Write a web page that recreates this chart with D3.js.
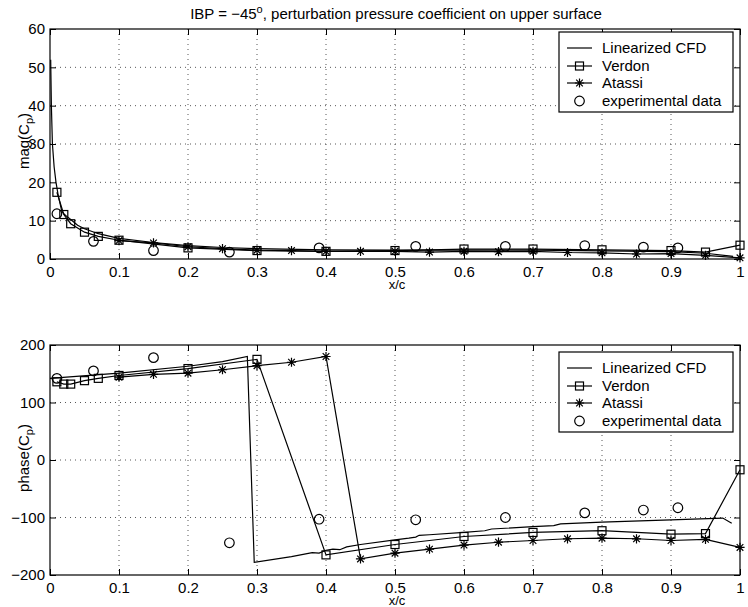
<!DOCTYPE html>
<html>
<head>
<meta charset="utf-8">
<script src="https://cdn.jsdelivr.net/npm/d3@7"></script>
<style>
  body { margin: 0; background: #fff; }
  svg text { font-family: "Liberation Sans", Arial, Helvetica, sans-serif; fill: #000; }
</style>
</head>
<body>
<svg id="chart" width="748" height="607"></svg>
<script>
// ---- tick values ----
const xTicks = [0, 0.1, 0.2, 0.3, 0.4, 0.5, 0.6, 0.7, 0.8, 0.9, 1];
const magTicks = [0, 10, 20, 30, 40, 50, 60];
const phaseTicks = [-200, -100, 0, 100, 200];

// ---- Linearized CFD ----
const cfdMagX = [0.001, 0.002, 0.0035, 0.006, 0.0087, 0.012, 0.017, 0.02, 0.025, 0.03, 0.04, 0.05, 0.07, 0.1, 0.15, 0.2, 0.25, 0.3, 0.4, 0.5, 0.6, 0.7, 0.8, 0.9, 0.95, 0.99];
const cfdMag  = [52, 40, 30, 24, 20, 16.5, 12.5, 11.8, 11, 10.3, 8.8, 7.9, 6.6, 5.4, 4.3, 3.5, 3.0, 2.7, 2.4, 2.3, 2.3, 2.3, 2.1, 1.9, 1.5, 0.7];
const cfdPhaseX = [0, 0.1, 0.2, 0.25, 0.286, 0.296, 0.35, 0.38, 0.39, 0.4, 0.41, 0.42, 0.43, 0.45, 0.5, 0.52, 0.53, 0.535, 0.55, 0.6, 0.63, 0.64, 0.7, 0.73, 0.74, 0.8, 0.9, 0.975, 0.988];
const cfdPhase  = [142, 151, 163, 171, 180, -178, -168, -161, -162, -157, -155, -156, -151, -147, -139, -136, -134, -131, -130, -126, -123, -120, -116, -114, -111, -108, -104, -101, -110];

// ---- Verdon ----
const verdonX     = [0.01, 0.02, 0.03, 0.05, 0.07, 0.1, 0.2, 0.3, 0.4, 0.5, 0.6, 0.7, 0.8, 0.9, 0.95, 1.0];
const verdonMag   = [17.4, 11.6, 9.2, 7.0, 5.9, 4.9, 2.9, 2.2, 2.0, 2.2, 2.6, 2.6, 2.4, 2.2, 1.8, 3.6];
const verdonPhase = [136, 132, 132, 138, 142, 147, 159, 175, -165, -147, -133, -126, -123, -129, -128, -17];

// ---- Atassi ----
const atassiX     = [0.1, 0.15, 0.2, 0.25, 0.3, 0.35, 0.4, 0.45, 0.5, 0.55, 0.6, 0.65, 0.7, 0.75, 0.8, 0.85, 0.9, 0.95, 1.0];
const atassiMag   = [4.8, 4.2, 3.2, 2.7, 2.3, 2.2, 2.0, 2.0, 2.0, 1.8, 2.0, 1.9, 2.0, 1.7, 1.6, 1.3, 1.4, 0.95, 0.3];
const atassiPhase = [144, 149, 151, 157, 164, 170, 180, -172, -162, -155, -148, -143, -140, -137, -136, -137, -140, -138, -152];

// ---- experimental data ----
const expX     = [0.01, 0.063, 0.15, 0.26, 0.39, 0.53, 0.66, 0.775, 0.86, 0.91];
const expMag   = [11.8, 4.6, 2.2, 1.8, 2.9, 3.3, 3.3, 3.5, 3.1, 2.9];
const expPhase = [142, 155, 178, -144, -103, -104, -100, -92, -87, -83];

const seriesNames = ["Linearized CFD", "Verdon", "Atassi", "experimental data"];
const titleText = ["IBP = \u221245", "o", ", perturbation pressure coefficient on upper surface"];

const svg = d3.select("#chart");
const fmt = v => String(v).replace("-", "\u2212");
const zip = (xs, ys) => xs.map((x, i) => [x, ys[i]]);

// asterisk marker: plus overlaid with a cross
function asteriskPath(r) {
  const d = r * 0.72;
  return `M0,${-r}L0,${r}M${-r},0L${r},0M${-d},${-d}L${d},${d}M${-d},${d}L${d},${-d}`;
}

function drawPanel(cfg) {
  const x = d3.scaleLinear().domain([0, 1]).range([50, 740]);
  const y = d3.scaleLinear().domain(cfg.yDomain).range([cfg.bottom, cfg.top]);
  const g = svg.append("g");

  // dotted grid
  g.append("g").selectAll("line").data(xTicks.slice(1, -1)).join("line")
    .attr("x1", d => x(d)).attr("x2", d => x(d)).attr("y1", cfg.top).attr("y2", cfg.bottom)
    .attr("stroke", "#444").attr("stroke-width", 0.9).attr("stroke-dasharray", "1,4");
  g.append("g").selectAll("line").data(cfg.yTicks.slice(1, -1)).join("line")
    .attr("y1", d => y(d)).attr("y2", d => y(d)).attr("x1", 50).attr("x2", 740)
    .attr("stroke", "#444").attr("stroke-width", 0.9).attr("stroke-dasharray", "1,4");

  // axes with inward ticks on all four sides
  const tk = 6;
  g.append("g").attr("transform", `translate(0,${cfg.bottom})`)
    .call(d3.axisBottom(x).tickValues(xTicks).tickSize(-tk).tickPadding(tk + 1).tickFormat(d => d))
    .call(a => { a.select(".domain").remove(); a.selectAll("text").attr("font-size", 15).attr("font-family", null); });
  g.append("g").attr("transform", `translate(0,${cfg.top})`)
    .call(d3.axisTop(x).tickValues(xTicks).tickSize(-tk).tickFormat(""))
    .call(a => a.select(".domain").remove());
  g.append("g").attr("transform", "translate(50,0)")
    .call(d3.axisLeft(y).tickValues(cfg.yTicks).tickSize(-tk).tickPadding(5).tickFormat(fmt))
    .call(a => { a.select(".domain").remove(); a.selectAll("text").attr("font-size", 15).attr("font-family", null); });
  g.append("g").attr("transform", "translate(740,0)")
    .call(d3.axisRight(y).tickValues(cfg.yTicks).tickSize(-tk).tickFormat(""))
    .call(a => a.select(".domain").remove());
  g.selectAll(".tick line").attr("stroke", "#000");
  g.append("rect").attr("x", 50).attr("y", cfg.top).attr("width", 690).attr("height", cfg.bottom - cfg.top)
    .attr("fill", "none").attr("stroke", "#000").attr("stroke-width", 1.2);

  // curves
  const line = d3.line().x(d => x(d[0])).y(d => y(d[1]));
  const plot = g.append("g").attr("fill", "none").attr("stroke", "#000").attr("stroke-width", 1.2);
  plot.append("path").attr("d", line(zip(cfg.cfdX, cfg.cfdY)));
  plot.append("path").attr("d", line(zip(verdonX, cfg.verdon)));
  plot.append("path").attr("d", line(zip(atassiX, cfg.atassi)));

  // markers
  plot.selectAll("rect.sq").data(zip(verdonX, cfg.verdon)).join("rect").attr("class", "sq")
    .attr("x", d => x(d[0]) - 4).attr("y", d => y(d[1]) - 4).attr("width", 8).attr("height", 8);
  plot.selectAll("path.ast").data(zip(atassiX, cfg.atassi)).join("path").attr("class", "ast")
    .attr("transform", d => `translate(${x(d[0])},${y(d[1])})`).attr("d", asteriskPath(4.6));
  plot.selectAll("circle.ex").data(zip(expX, cfg.exp)).join("circle").attr("class", "ex")
    .attr("cx", d => x(d[0])).attr("cy", d => y(d[1])).attr("r", 4.8);

  // axis labels
  g.append("text").attr("x", 397).attr("y", cfg.bottom + 30).attr("text-anchor", "middle")
    .attr("font-size", 13).text("x/c");
  const yl = g.append("text").attr("transform", `translate(29,${cfg.labelY}) rotate(-90)`)
    .attr("text-anchor", "middle").attr("font-size", 15);
  yl.append("tspan").text(cfg.yName + "(C");
  yl.append("tspan").attr("dy", 4).attr("font-size", 11).text("p");
  yl.append("tspan").attr("dy", -4).text(")");

  // legend
  const lg = g.append("g").attr("transform", `translate(559,${cfg.legendTop})`);
  lg.append("rect").attr("width", 174).attr("height", 80).attr("fill", "#fff")
    .attr("stroke", "#000").attr("stroke-width", 1.2);
  const rows = [16, 34, 51, 69];
  seriesNames.forEach((name, i) => {
    const ry = rows[i];
    if (i < 3) lg.append("line").attr("x1", 8).attr("x2", 33).attr("y1", ry).attr("y2", ry)
      .attr("stroke", "#000").attr("stroke-width", 1.2);
    if (i === 1) lg.append("rect").attr("x", 16.5).attr("y", ry - 4).attr("width", 8).attr("height", 8)
      .attr("fill", "none").attr("stroke", "#000").attr("stroke-width", 1.2);
    if (i === 2) lg.append("path").attr("transform", `translate(20.5,${ry})`).attr("d", asteriskPath(4.6))
      .attr("fill", "none").attr("stroke", "#000").attr("stroke-width", 1.2);
    if (i === 3) lg.append("circle").attr("cx", 20.5).attr("cy", ry).attr("r", 4.8)
      .attr("fill", "none").attr("stroke", "#000").attr("stroke-width", 1.2);
    lg.append("text").attr("x", 43).attr("y", ry + 5).attr("font-size", 15).text(name);
  });
}

drawPanel({
  top: 29, bottom: 259, yDomain: [0, 60], yTicks: magTicks, yName: "mag", labelY: 141,
  cfdX: cfdMagX, cfdY: cfdMag, verdon: verdonMag, atassi: atassiMag, exp: expMag, legendTop: 32
});
drawPanel({
  top: 345, bottom: 575, yDomain: [-200, 200], yTicks: phaseTicks, yName: "phase", labelY: 458,
  cfdX: cfdPhaseX, cfdY: cfdPhase, verdon: verdonPhase, atassi: atassiPhase, exp: expPhase, legendTop: 352
});

// title
const t = svg.append("text").attr("x", 396).attr("y", 19).attr("text-anchor", "middle").attr("font-size", 15);
t.append("tspan").text(titleText[0]);
t.append("tspan").attr("dy", -6).attr("font-size", 11).text(titleText[1]);
t.append("tspan").attr("dy", 6).text(titleText[2]);
</script>
</body>
</html>
